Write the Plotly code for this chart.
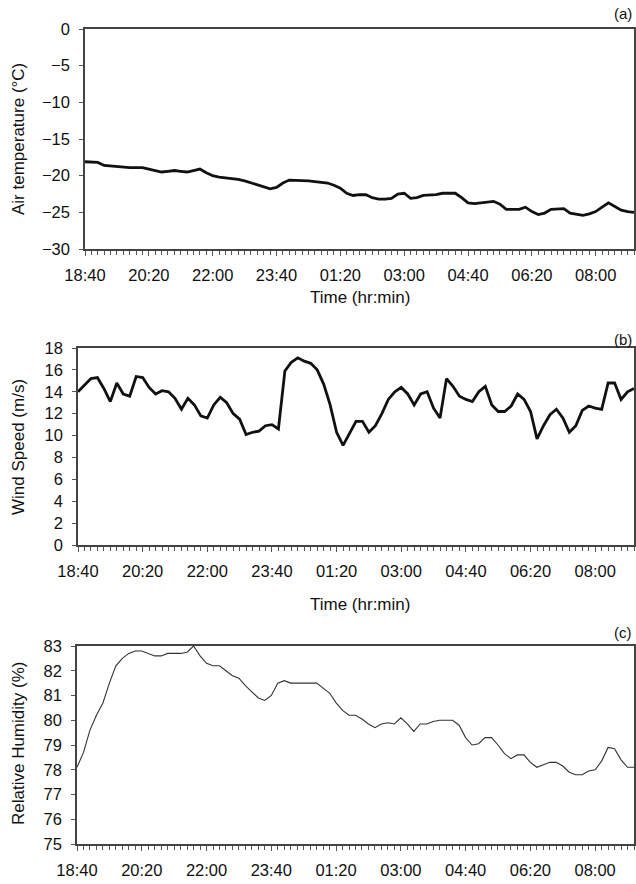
import plotly.graph_objects as go

# time axis: minutes after 18:40, one sample every 10 minutes (18:40 .. 09:00)
minutes = list(range(0, 870, 10))
tick_pos = [0, 100, 200, 300, 400, 500, 600, 700, 800]
tick_labels = ["18:40", "20:20", "22:00", "23:40", "01:20", "03:00", "04:40", "06:20", "08:00"]

air_temp = [-18.1, -18.1, -18.2, -18.6, -18.7, -18.8, -18.8, -18.9, -18.9, -18.9,
            -19.1, -19.3, -19.5, -19.4, -19.3, -19.4, -19.5, -19.3, -19.1, -19.6,
            -20.0, -20.2, -20.3, -20.3, -20.5, -20.7, -21.0, -21.3, -21.6, -21.8,
            -21.6, -21.0, -20.6, -20.6, -20.7, -20.7, -20.8, -20.9, -21.0, -21.3,
            -21.7, -22.4, -22.7, -22.6, -22.6, -23.0, -23.2, -23.2, -23.1, -22.5,
            -22.4, -23.1, -23.0, -22.7, -22.7, -22.6, -22.4, -22.4, -22.4, -23.0,
            -23.7, -23.8, -23.7, -23.5, -23.5, -23.9, -24.6, -24.6, -24.6, -24.3,
            -24.9, -25.3, -25.1, -24.6, -24.5, -24.5, -25.1, -25.3, -25.4, -25.2,
            -24.9, -24.3, -23.7, -24.2, -24.7, -24.9, -25.0]

wind_speed = [14.0, 14.6, 15.2, 15.3, 14.3, 13.1, 14.8, 13.8, 13.6, 15.4,
              15.3, 14.4, 13.8, 14.1, 14.0, 13.4, 12.4, 13.4, 12.8, 11.8,
              11.6, 12.8, 13.5, 13.0, 12.0, 11.5, 10.1, 10.3, 10.4, 10.9,
              11.0, 10.6, 15.9, 16.7, 17.1, 16.8, 16.6, 16.0, 14.7, 12.8,
              10.3, 9.1, 10.2, 11.3, 11.3, 10.3, 10.9, 12.0, 13.3, 14.0,
              14.4, 13.8, 12.8, 13.8, 14.0, 12.5, 11.6, 15.2, 14.5, 13.6,
              13.3, 13.1, 14.0, 14.5, 12.8, 12.2, 12.2, 12.7, 13.8, 13.3,
              12.2, 9.7, 10.9, 11.9, 12.4, 11.6, 10.3, 10.9, 12.3, 12.7,
              12.5, 12.4, 14.8, 14.8, 13.3, 14.0, 14.3]

rel_humidity = [78.1, 78.7, 79.6, 80.2, 80.7, 81.5, 82.2, 82.5, 82.7, 82.8,
                82.8, 82.7, 82.6, 82.6, 82.7, 82.7, 82.7, 82.75, 83.0, 82.6,
                82.3, 82.2, 82.2, 82.0, 81.8, 81.7, 81.4, 81.15, 80.9, 80.8,
                81.0, 81.5, 81.6, 81.5, 81.5, 81.5, 81.5, 81.5, 81.3, 81.1,
                80.7, 80.4, 80.2, 80.2, 80.05, 79.85, 79.7, 79.85, 79.9, 79.85,
                80.1, 79.85, 79.55, 79.85, 79.85, 79.95, 80.0, 80.0, 80.0, 79.8,
                79.3, 79.0, 79.05, 79.3, 79.3, 79.0, 78.65, 78.45, 78.6, 78.6,
                78.3, 78.1, 78.2, 78.3, 78.3, 78.15, 77.9, 77.8, 77.8, 77.95,
                78.0, 78.35, 78.9, 78.85, 78.4, 78.1, 78.1]

W, H = 636, 884
FONT = "Liberation Sans, Arial, sans-serif"

def px_x(x):
    return x / W

def px_y(y):
    return 1 - y / H

fig = go.Figure()
fig.add_trace(go.Scatter(x=minutes, y=air_temp, mode="lines",
                         line=dict(color="#111111", width=2.8), xaxis="x", yaxis="y"))
fig.add_trace(go.Scatter(x=minutes, y=wind_speed, mode="lines",
                         line=dict(color="#111111", width=2.8), xaxis="x2", yaxis="y2"))
fig.add_trace(go.Scatter(x=minutes, y=rel_humidity, mode="lines",
                         line=dict(color="#333333", width=1.1), xaxis="x3", yaxis="y3"))

# panel pixel boxes in reference coordinates: (left, right, top, bottom)
boxes = [(85, 634, 29, 249), (78, 634, 348, 545), (77, 634, 646, 844)]
yranges = [(-30, 0), (0, 18), (75, 83)]
ydticks = [5, 2, 1]

def xaxis_cfg(box, anchor):
    return dict(domain=[px_x(box[0]), px_x(box[1])], anchor=anchor, automargin=False,
                range=[0, 860], tickmode="array", tickvals=tick_pos, ticktext=tick_labels,
                ticks="outside", ticklen=5, tickwidth=1, tickcolor="#555",
                minor=dict(tickmode="array", tickvals=minutes, ticks="outside",
                           ticklen=4, tickwidth=1, tickcolor="#555"),
                ticklabelstandoff=5,
                showline=True, linecolor="#444", linewidth=1.8, mirror=True,
                showgrid=False, zeroline=False,
                tickfont=dict(family=FONT, size=16.5, color="#111"))

def yaxis_cfg(box, anchor, rng, dt):
    return dict(domain=[px_y(box[3]), px_y(box[2])], anchor=anchor, automargin=False,
                range=list(rng), dtick=dt, tick0=rng[0],
                ticks="outside", ticklen=4, tickwidth=1, tickcolor="#555",
                ticklabelstandoff=6,
                showline=True, linecolor="#444", linewidth=1.8, mirror=True,
                showgrid=False, zeroline=False,
                tickfont=dict(family=FONT, size=16.5, color="#111"))

fig.update_layout(
    template="none",
    width=W, height=H, margin=dict(l=0, r=0, t=0, b=0, pad=0),
    paper_bgcolor="white", plot_bgcolor="white", showlegend=False,
    xaxis=xaxis_cfg(boxes[0], "y"),
    yaxis=yaxis_cfg(boxes[0], "x", yranges[0], ydticks[0]),
    xaxis2=xaxis_cfg(boxes[1], "y2"),
    yaxis2=yaxis_cfg(boxes[1], "x2", yranges[1], ydticks[1]),
    xaxis3=xaxis_cfg(boxes[2], "y3"),
    yaxis3=yaxis_cfg(boxes[2], "x3", yranges[2], ydticks[2]),
)

ann_font = dict(family=FONT, size=17, color="#111")
annotations = [
    dict(text="Air temperature (°C)", x=px_x(18), y=px_y(139), textangle=-90),
    dict(text="Wind Speed (m/s)", x=px_x(18), y=px_y(447), textangle=-90),
    dict(text="Relative Humidity (%)", x=px_x(18), y=px_y(744), textangle=-90),
    dict(text="Time (hr:min)", x=px_x(360), y=px_y(297), textangle=0),
    dict(text="Time (hr:min)", x=px_x(360), y=px_y(604), textangle=0),
]
for a in annotations:
    a.update(xref="paper", yref="paper", xanchor="center", yanchor="middle",
             showarrow=False, font=ann_font)
for lbl, yy in [("(a)", 14), ("(b)", 339), ("(c)", 632)]:
    annotations.append(dict(text=lbl, x=px_x(634), y=px_y(yy), xref="paper", yref="paper",
                            xanchor="right", yanchor="middle", showarrow=False,
                            font=dict(family=FONT, size=15, color="#111")))
fig.update_layout(annotations=annotations)

# remove the default 8px page margin so the figure fills the window exactly
fig.write_html("out.html",
               config={"displayModeBar": False, "staticPlot": True},
               post_script="document.body.style.margin='0px';"
                           "document.documentElement.style.overflow='hidden';")
